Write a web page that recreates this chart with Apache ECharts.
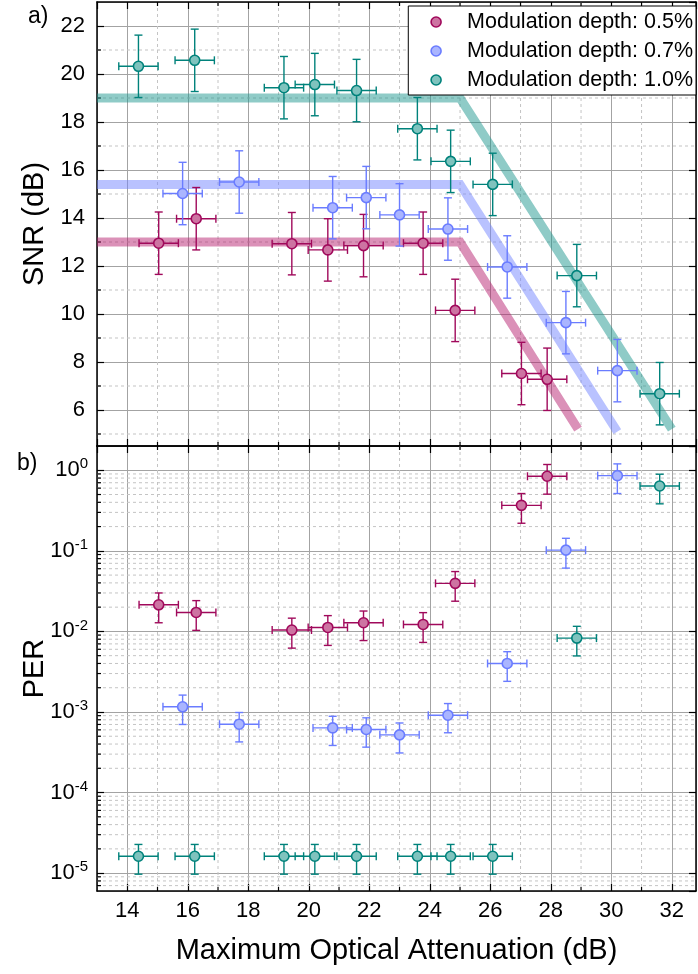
<!DOCTYPE html>
<html><head><meta charset="utf-8">
<script src="https://cdn.jsdelivr.net/npm/echarts@6/dist/echarts.min.js"></script>
<style>html,body{margin:0;padding:0;background:#fff}#c{width:698px;height:974px}</style>
</head><body><div id="c"></div>
<script>
const FONT = '"Liberation Sans", Arial, Helvetica, sans-serif';

// ---- series names ----
const seriesNames = ['Modulation depth: 0.5%', 'Modulation depth: 0.7%', 'Modulation depth: 1.0%'];

// ---- x values: Maximum Optical Attenuation (dB) ----
const att05 = [15.04, 16.28, 19.44, 20.63, 21.81, 23.78, 24.84, 27.03, 27.88];
const att07 = [15.83, 17.70, 20.79, 21.90, 23.00, 24.60, 26.56, 28.50, 30.20];
const att10 = [14.37, 16.23, 19.18, 20.20, 21.58, 23.59, 24.69, 26.08, 28.86, 31.60];
const attErr = 0.65;

// ---- SNR (dB) ----
const snr05 = [12.95, 13.97, 12.93, 12.67, 12.85, 12.95, 10.15, 7.52, 7.28];
const snr07 = [15.02, 15.50, 14.43, 14.85, 14.13, 13.54, 11.96, 9.64, 7.64];
const snr10 = [20.32, 20.57, 19.43, 19.56, 19.31, 17.72, 16.36, 15.40, 11.60, 6.68];
const snrErr = 1.3;

// ---- PER ----
const per05 = [0.0214, 0.0172, 0.0104, 0.0112, 0.0128, 0.0122, 0.0395, 0.367, 0.842];
const per07 = [1.16e-3, 7.05e-4, 6.34e-4, 6.06e-4, 5.2e-4, 9.12e-4, 4.0e-3, 0.102, 0.857];
const per10 = [1.62e-5, 1.62e-5, 1.62e-5, 1.62e-5, 1.62e-5, 1.62e-5, 1.62e-5, 1.62e-5, 8.26e-3, 0.638];
const perErr05 = [0.0086, 0.0069, 0.0042, 0.0045, 0.0051, 0.0049, 0.0158, 0.147, 0.337];
const perErr07 = [4.6e-4, 2.8e-4, 2.5e-4, 2.4e-4, 2.1e-4, 3.6e-4, 1.6e-3, 0.041, 0.343];
const perErr10 = [6.5e-6, 6.5e-6, 6.5e-6, 6.5e-6, 6.5e-6, 6.5e-6, 6.5e-6, 6.5e-6, 3.3e-3, 0.255];

// ---- trend lines (top panel) ----
const trendX05 = [13, 25, 28.9];  const trendY05 = [13.0, 13.0, 5.2];
const trendX07 = [13, 25, 30.2];  const trendY07 = [15.4, 15.4, 5.1];
const trendX10 = [13, 25, 32.0];  const trendY10 = [19.0, 19.0, 5.2];

// ---- axis ranges / ticks ----
const xRange = [13, 32.8];
const snrRange = [4.5, 23];
const perRange = [6e-6, 2];
const xMinor = [15, 17, 19, 21, 23, 25, 27, 29, 31];
const snrMinor = [5, 7, 9, 11, 13, 15, 17, 19, 21];
const perMantissas = [2, 3, 4, 5, 6, 7, 8, 9];
const perDecades = [-6, -5, -4, -3, -2, -1, 0];
const perMinor = [];
perDecades.forEach(d => perMantissas.forEach(m => {
  const v = m * Math.pow(10, d);
  if (v > perRange[0] * 1.0001 && v < perRange[1] * 0.9999) perMinor.push(v);
}));

const colors = [
  {edge: '#a0095b', fill: '#cd74a2', band: 'rgba(179,25,106,0.48)'},
  {edge: '#6a7cff', fill: '#aab5ff', band: 'rgba(115,133,255,0.50)'},
  {edge: '#00827b', fill: '#7fc3be', band: 'rgba(31,152,144,0.50)'}
];

const atts = [att05, att07, att10];
const snrs = [snr05, snr07, snr10];
const pers = [per05, per07, per10];
const perErrs = [perErr05, perErr07, perErr10];
const trends = [[trendX05, trendY05], [trendX07, trendY07], [trendX10, trendY10]];

const chart = echarts.init(document.getElementById('c'));

function errRender(color) {
  return function (params, api) {
    const x = api.value(0), y = api.value(1), ex = api.value(2), ey = api.value(3);
    const c = api.coord([x, y]);
    const l = api.coord([x - ex, y]), r = api.coord([x + ex, y]);
    const t = api.coord([x, y + ey]), b = api.coord([x, y - ey]);
    const cap = 4;
    const st = {stroke: color, lineWidth: 1.4, fill: null};
    return {type: 'group', children: [
      {type: 'line', shape: {x1: l[0], y1: c[1], x2: r[0], y2: c[1]}, style: st},
      {type: 'line', shape: {x1: l[0], y1: c[1] - cap, x2: l[0], y2: c[1] + cap}, style: st},
      {type: 'line', shape: {x1: r[0], y1: c[1] - cap, x2: r[0], y2: c[1] + cap}, style: st},
      {type: 'line', shape: {x1: c[0], y1: t[1], x2: c[0], y2: b[1]}, style: st},
      {type: 'line', shape: {x1: c[0] - cap, y1: t[1], x2: c[0] + cap, y2: t[1]}, style: st},
      {type: 'line', shape: {x1: c[0] - cap, y1: b[1], x2: c[0] + cap, y2: b[1]}, style: st}
    ]};
  };
}

const MINOR_GRID = {stroke: '#c4c4c4', lineWidth: 1, lineDash: [3, 3]};
const TICK = {stroke: '#000', lineWidth: 1.2};

function vMinorRender(params, api) {
  const p = api.coord([api.value(0), api.value(1)]);
  const cs = params.coordSys;
  return {type: 'group', children: [
    {type: 'line', shape: {x1: p[0], y1: cs.y, x2: p[0], y2: cs.y + cs.height}, style: MINOR_GRID},
    {type: 'line', shape: {x1: p[0], y1: cs.y + cs.height, x2: p[0], y2: cs.y + cs.height - 4}, style: TICK},
    {type: 'line', shape: {x1: p[0], y1: cs.y, x2: p[0], y2: cs.y + 4}, style: TICK}
  ]};
}
function hMinorRender(params, api) {
  const p = api.coord([api.value(0), api.value(1)]);
  const cs = params.coordSys;
  return {type: 'group', children: [
    {type: 'line', shape: {x1: cs.x, y1: p[1], x2: cs.x + cs.width, y2: p[1]}, style: MINOR_GRID},
    {type: 'line', shape: {x1: cs.x, y1: p[1], x2: cs.x + 4, y2: p[1]}, style: TICK}
  ]};
}

const series = [];
series.push({type: 'custom', xAxisIndex: 0, yAxisIndex: 0, silent: true, z: 1, renderItem: vMinorRender,
  data: xMinor.map(v => [v, snrRange[0]]), encode: {x: 0, y: 1}});
series.push({type: 'custom', xAxisIndex: 0, yAxisIndex: 0, silent: true, z: 1, renderItem: hMinorRender,
  data: snrMinor.map(v => [xRange[0], v]), encode: {x: 0, y: 1}});
series.push({type: 'custom', xAxisIndex: 2, yAxisIndex: 2, silent: true, z: 1, renderItem: vMinorRender,
  data: xMinor.map(v => [v, perRange[0]]), encode: {x: 0, y: 1}});
series.push({type: 'custom', xAxisIndex: 2, yAxisIndex: 2, silent: true, z: 1, renderItem: hMinorRender,
  data: perMinor.map(v => [xRange[0], v]), encode: {x: 0, y: 1}});

for (let i = 0; i < 3; i++) {
  const c = colors[i];
  series.push({type: 'line', name: 'trend' + i, xAxisIndex: 0, yAxisIndex: 0, silent: true, z: 2,
    showSymbol: false, symbol: 'none', animation: false,
    lineStyle: {color: c.band, width: 9, join: 'miter'},
    data: trends[i][0].map((x, k) => [x, trends[i][1][k]])});
  series.push({type: 'custom', name: 'errSNR' + i, xAxisIndex: 0, yAxisIndex: 0, z: 3, silent: true,
    renderItem: errRender(c.edge), encode: {x: 0, y: 1},
    data: atts[i].map((x, k) => [x, snrs[i][k], attErr, snrErr])});
  series.push({type: 'custom', name: 'errPER' + i, xAxisIndex: 2, yAxisIndex: 2, z: 3, silent: true,
    renderItem: errRender(c.edge), encode: {x: 0, y: 1},
    data: atts[i].map((x, k) => [x, pers[i][k], attErr, perErrs[i][k]])});
  const mk = {symbol: 'circle', symbolSize: 10, z: 5,
    itemStyle: {color: c.fill, borderColor: c.edge, borderWidth: 1.6, opacity: 1}};
  series.push(Object.assign({type: 'scatter', name: seriesNames[i], xAxisIndex: 0, yAxisIndex: 0,
    data: atts[i].map((x, k) => [x, snrs[i][k]])}, mk));
  series.push(Object.assign({type: 'scatter', name: seriesNames[i], xAxisIndex: 2, yAxisIndex: 2,
    data: atts[i].map((x, k) => [x, pers[i][k]])}, mk));
}

const axisLine = {show: true, onZero: false, lineStyle: {color: '#000', width: 1.5}};
const tickMajor = {show: true, inside: true, length: 7, lineStyle: {color: '#000', width: 1.2}};
const splitMajor = {show: true, lineStyle: {color: '#a3a3a3', width: 1}};
const noLabel = {show: false};
const labelStyle = {color: '#000', fontSize: 22, fontFamily: FONT};
const titleStyle = {fontSize: 29, color: '#000', fontFamily: FONT};

const xBase = {type: 'value', min: xRange[0], max: xRange[1], splitNumber: 10, axisLine: axisLine, axisTick: tickMajor};

const option = {
  animation: false,
  backgroundColor: '#fff',
  textStyle: {fontFamily: FONT},
  grid: [
    {left: 97, right: 2, top: 2, height: 444},
    {left: 97, right: 2, top: 446, height: 445}
  ],
  legend: {
    orient: 'vertical', right: 2, top: 6, itemWidth: 52, itemHeight: 10, itemGap: 7,
    padding: [5, 3, 4, 22], borderColor: '#000', borderWidth: 1, backgroundColor: '#fff',
    textStyle: {fontSize: 21.5, fontFamily: FONT, color: '#000', lineHeight: 21},
    data: seriesNames.map((n, i) => ({name: n, icon: 'circle',
      itemStyle: {color: colors[i].fill, borderColor: colors[i].edge, borderWidth: 1.6}}))
  },
  xAxis: [
    Object.assign({}, xBase, {gridIndex: 0, position: 'bottom', axisLabel: noLabel, splitLine: splitMajor}),
    Object.assign({}, xBase, {gridIndex: 0, position: 'top', axisLabel: noLabel, splitLine: {show: false}}),
    Object.assign({}, xBase, {gridIndex: 1, position: 'bottom', splitLine: splitMajor,
      axisLabel: Object.assign({margin: 9, showMinLabel: false, showMaxLabel: false}, labelStyle),
      name: 'Maximum Optical Attenuation (dB)', nameLocation: 'middle', nameGap: 45, nameMoveOverlap: false,
      nameTextStyle: titleStyle}),
    Object.assign({}, xBase, {gridIndex: 1, position: 'top', axisLabel: noLabel, splitLine: {show: false}})
  ],
  yAxis: [
    {type: 'value', gridIndex: 0, position: 'left', min: snrRange[0], max: snrRange[1], splitNumber: 9,
      axisLine: axisLine, axisTick: tickMajor, splitLine: splitMajor,
      axisLabel: Object.assign({margin: 12, showMinLabel: false, showMaxLabel: false}, labelStyle),
      name: 'SNR (dB)', nameLocation: 'middle', nameGap: 48, nameRotate: 90, nameMoveOverlap: false,
      nameTextStyle: titleStyle},
    {type: 'value', gridIndex: 0, position: 'right', min: snrRange[0], max: snrRange[1], splitNumber: 9,
      axisLine: axisLine, axisTick: tickMajor, splitLine: {show: false}, axisLabel: noLabel},
    {type: 'log', logBase: 10, gridIndex: 1, position: 'left', min: perRange[0], max: perRange[1],
      axisLine: axisLine, axisTick: tickMajor, splitLine: splitMajor,
      axisLabel: {margin: 9, showMinLabel: false, showMaxLabel: false, color: '#000', fontFamily: FONT,
        formatter: function (v) { return '{b|10}{s|' + Math.round(Math.log10(v)) + '}'; },
        rich: {b: {fontSize: 22, lineHeight: 27, fontFamily: FONT, color: '#000'},
               s: {fontSize: 15, lineHeight: 15, verticalAlign: 'top', fontFamily: FONT, color: '#000'}}},
      name: 'PER', nameLocation: 'middle', nameGap: 48, nameRotate: 90, nameMoveOverlap: false,
      nameTextStyle: titleStyle},
    {type: 'log', logBase: 10, gridIndex: 1, position: 'right', min: perRange[0], max: perRange[1],
      axisLine: axisLine, axisTick: tickMajor, splitLine: {show: false}, axisLabel: noLabel}
  ],
  graphic: [
    {type: 'text', left: 28, top: 5, style: {text: 'a)', fontSize: 23, fontFamily: FONT, fill: '#000'}},
    {type: 'text', left: 17, top: 452, style: {text: 'b)', fontSize: 23, fontFamily: FONT, fill: '#000'}}
  ],
  series: series
};
chart.setOption(option);
</script></body></html>
